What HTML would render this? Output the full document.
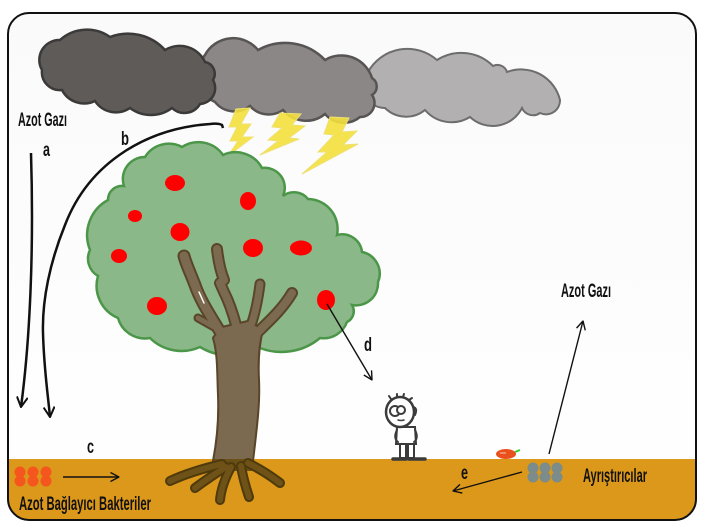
<!DOCTYPE html>
<html><head><meta charset="utf-8"><style>
html,body{margin:0;padding:0;background:#fff;}
svg{display:block;}
text{font-family:"Liberation Sans",Arial,sans-serif;font-weight:bold;fill:#111;}
</style></head><body>
<svg width="704" height="530" viewBox="0 0 704 530" xmlns="http://www.w3.org/2000/svg">
<defs>
<clipPath id="fr"><rect x="8" y="13" width="688" height="507" rx="21"/></clipPath>
<marker id="at" viewBox="0 0 12 12" refX="11" refY="6" markerWidth="12" markerHeight="12" orient="auto" markerUnits="userSpaceOnUse"><path d="M1,0.5 L11,6 L1,11.5" fill="none" stroke="#111" stroke-width="2"/></marker>
<marker id="as" viewBox="0 0 10 10" refX="9.5" refY="5" markerWidth="10" markerHeight="10" orient="auto" markerUnits="userSpaceOnUse"><path d="M1,0.5 L9.5,5 L1,9.5" fill="none" stroke="#111" stroke-width="1.4"/></marker>
<linearGradient id="bg" x1="0" y1="0" x2="0" y2="1"><stop offset="0" stop-color="#fafafa"/><stop offset="1" stop-color="#ffffff"/></linearGradient>
</defs>
<rect width="704" height="530" fill="#fff"/>
<g clip-path="url(#fr)">
 <rect x="0" y="0" width="704" height="530" fill="url(#bg)"/>
 <rect x="0" y="459" width="704" height="71" fill="#DC981A"/>
</g>
<rect x="8" y="13" width="688" height="507" rx="21" fill="none" stroke="#111" stroke-width="2"/>

<!-- clouds -->
<path d="M368,72 A45,45 0 0 1 437,60 A45,45 0 0 1 493,66 A10,10 0 0 1 507,72 A40,40 0 0 1 560,100 A14,14 0 0 1 540,113 A12,12 0 0 1 522,108 A33,33 0 0 1 470,117 A35,35 0 0 1 425,110 A30,30 0 0 1 385,108 A22,22 0 0 1 368,72 Z" fill="#b2b0b0" stroke="#6e6d6d" stroke-width="2"/>
<path d="M205,55 A32,32 0 0 1 258,50 A55,55 0 0 1 325,60 A32,32 0 0 1 372,78 A10,10 0 0 1 372,95 A14,14 0 0 1 360,117 A25,25 0 0 1 325,114 A30,30 0 0 1 283,110 A25,25 0 0 1 250,106 A25,25 0 0 1 215,102 A30,30 0 0 1 205,55 Z" fill="#8b8787" stroke="#575453" stroke-width="2.5"/>
<path d="M42,70 A20,20 0 0 1 60,40 A40,40 0 0 1 110,37 A50,50 0 0 1 165,50 A28,28 0 0 1 205,62 A12,12 0 0 1 213,80 A16,16 0 0 1 200,104 A18,18 0 0 1 172,108 A35,35 0 0 1 130,108 A25,25 0 0 1 95,101 A25,25 0 0 1 62,90 A18,18 0 0 1 42,70 Z" fill="#5e5b59" stroke="#3c3a39" stroke-width="2.5"/>

<!-- lightning -->
<g fill="#f3e03c" fill-opacity="0.9" stroke="#efe070" stroke-width="1">
<polygon points="236,109 250,108 241,124 251,124 242,137 253,137 228,156 238,141 230,141 237,127 229,127"/>
<polygon points="280,113 301,114 292,125 305,126 289,138 299,139 260,155 278,141 268,140 282,128 272,127"/>
<polygon points="330,117 349,118 342,132 357,131 343,145 358,144 302,174 327,152 318,152 334,135 324,134"/>
</g>

<!-- canopy -->
<path d="M90,250 A40,40 0 0 1 108,200 A14,14 0 0 1 124,186 A22,22 0 0 1 145,157 A28,28 0 0 1 182,147 A30,30 0 0 1 223,155 A30,30 0 0 1 262,168 A20,20 0 0 1 283,196 A18,18 0 0 1 308,199 A30,30 0 0 1 337,235 A20,20 0 0 1 362,252 A22,22 0 0 1 378,282 A22,22 0 0 1 352,305 A12,12 0 0 1 347,322 A25,25 0 0 1 320,338 A60,60 0 0 1 260,348 A60,60 0 0 1 200,347 A45,45 0 0 1 150,338 A28,28 0 0 1 118,318 A35,35 0 0 1 98,276 A20,20 0 0 1 90,250 Z" fill="#8bb889" stroke="#4b9648" stroke-width="2.5"/>

<!-- apples -->
<g fill="#ff0000">
<ellipse cx="175" cy="183" rx="10" ry="8"/>
<ellipse cx="248" cy="201" rx="8" ry="9"/>
<ellipse cx="135" cy="216" rx="7" ry="6"/>
<ellipse cx="180" cy="232" rx="9.5" ry="9"/>
<ellipse cx="119" cy="256" rx="8" ry="7"/>
<ellipse cx="253" cy="248" rx="10" ry="9"/>
<ellipse cx="301" cy="248" rx="11" ry="7.5"/>
<ellipse cx="157" cy="306" rx="10" ry="9"/>
<ellipse cx="326" cy="300" rx="9" ry="10"/>
</g>

<!-- trunk -->
<g stroke-linecap="round" stroke-linejoin="round" fill="none">
 <path d="M214,461 C218,440 220,420 219,395 C218,375 219,355 214,338 L222,328 L248,322 L262,330 C258,345 257,360 258,380 C259,400 257,420 252,461 Z" fill="#5a4528" stroke="#5a4528" stroke-width="4"/>
 <g stroke="#5a4528">
  <path d="M222,335 C210,315 200,300 195,285 C190,272 186,264 184,256" stroke-width="13"/>
  <path d="M214,327 L198,318" stroke-width="9"/>
  <path d="M236,325 C232,310 228,300 224,292 L220,283 L224,280 C220,270 218,258 217,249" stroke-width="12"/>
  <path d="M250,328 C255,315 258,300 260,284" stroke-width="11"/>
  <path d="M255,335 C268,322 282,310 292,293" stroke-width="12"/>
 </g>
 <path d="M214,461 C218,440 220,420 219,395 C218,375 219,355 214,338 L222,328 L248,322 L262,330 C258,345 257,360 258,380 C259,400 257,420 252,461 Z" fill="#7b6a4f" stroke="none"/>
 <g stroke="#7b6a4f">
  <path d="M222,335 C210,315 200,300 195,285 C190,272 186,264 184,256" stroke-width="9"/>
  <path d="M214,327 L198,318" stroke-width="5"/>
  <path d="M236,325 C232,310 228,300 224,292 L220,283 L224,280 C220,270 218,258 217,249" stroke-width="8"/>
  <path d="M250,328 C255,315 258,300 260,284" stroke-width="7"/>
  <path d="M255,335 C268,322 282,310 292,293" stroke-width="8"/>
 </g>
 <path d="M199,292 L204,303" stroke="#fff" stroke-width="1.5"/>
</g>

<!-- roots -->
<polygon points="214,459 253,459 257,471 211,471" fill="#6b5016"/>
<g fill="none" stroke-linecap="round" stroke-linejoin="round">
 <g stroke="#4f3a0c" stroke-width="10">
  <path d="M222,464 C205,468 185,474 170,481"/>
  <path d="M226,467 C213,475 203,482 195,488"/>
  <path d="M231,467 C224,480 221,490 220,500"/>
  <path d="M241,466 C243,478 246,488 249,497"/>
  <path d="M248,463 C262,470 271,476 280,483"/>
 </g>
 <g stroke="#6e5217" stroke-width="6">
  <path d="M222,464 C205,468 185,474 170,481"/>
  <path d="M226,467 C213,475 203,482 195,488"/>
  <path d="M231,467 C224,480 221,490 220,500"/>
  <path d="M241,466 C243,478 246,488 249,497"/>
  <path d="M248,463 C262,470 271,476 280,483"/>
 </g>
</g>

<!-- person -->
<g stroke="#3b3b3b" stroke-width="2" fill="#fff" stroke-linecap="round">
 <path d="M397,427 L396,444 L416,444 L415,427 Z"/>
 <path d="M397,430 q-4,8 1,12 M415,430 q4,8 -1,12" fill="none"/>
 <rect x="400" y="444" width="6" height="14"/>
 <rect x="408" y="444" width="6" height="14"/>
 <path d="M393,459 L406,459 M409,459 L425,459" stroke-width="3.5"/>
 <ellipse cx="400" cy="412" rx="14" ry="15" stroke-width="2.5"/>
 <path d="M391,399 l-2,-3 M397,397 l0,-3 M403,397 l1,-3 M409,400 l3,-2" fill="none"/>
 <path d="M413,407 q5,1 2,8" fill="none"/>
 <circle cx="395" cy="411" r="5"/>
 <circle cx="401" cy="410" r="4"/>
 <path d="M398,420 q3,1 6,0" fill="none" stroke-width="1.5"/>
</g>

<!-- fallen apple -->
<ellipse cx="506" cy="454" rx="10" ry="5" fill="#ea501c"/>
<path d="M500,453 L506,453" stroke="#f7a080" stroke-width="1.5"/>
<path d="M515,452 L520,450" stroke="#33cc33" stroke-width="2"/>

<!-- bacteria -->
<g fill="#f4561e">
<circle cx="20" cy="472" r="5.5"/><circle cx="33" cy="472" r="5.5"/><circle cx="46" cy="472" r="5.5"/>
<circle cx="20" cy="481" r="5.5"/><circle cx="33" cy="481" r="5.5"/><circle cx="46" cy="481" r="5.5"/>
</g>
<g fill="#7b8c8a">
<circle cx="533" cy="468" r="5.5"/><circle cx="545" cy="468" r="5.5"/><circle cx="557" cy="468" r="5.5"/>
<circle cx="533" cy="477" r="5.5"/><circle cx="545" cy="477" r="5.5"/><circle cx="557" cy="477" r="5.5"/>
</g>

<!-- arrows -->
<g fill="none" stroke="#111">
 <path d="M31,153 C34,250 30,340 21,407" stroke-width="2.5" marker-end="url(#at)"/>
 <path d="M223,128 L222,125 Q218,123 210,124 C150,128 90,160 65,225 C50,262 42,300 43,333 C44,370 48,395 50,417" stroke-width="2.5" marker-end="url(#at)"/>
 <path d="M63,477 L119,477" stroke-width="1.4" marker-end="url(#as)"/>
 <path d="M327,304 L372,380" stroke-width="1.4" marker-end="url(#as)"/>
 <path d="M522,472 L453,491" stroke-width="1.4" marker-end="url(#as)"/>
 <path d="M549,454 L583,321" stroke-width="1.4" marker-end="url(#as)"/>
</g>

<!-- labels -->
<text x="18" y="126" font-size="19" textLength="49" lengthAdjust="spacingAndGlyphs">Azot Gazı</text>
<text x="43" y="156" font-size="19" textLength="7" lengthAdjust="spacingAndGlyphs">a</text>
<text x="121" y="145" font-size="19" textLength="8" lengthAdjust="spacingAndGlyphs">b</text>
<text x="87" y="453" font-size="19" textLength="7" lengthAdjust="spacingAndGlyphs">c</text>
<text x="364" y="351" font-size="19" textLength="8" lengthAdjust="spacingAndGlyphs">d</text>
<text x="461" y="479" font-size="19" textLength="7" lengthAdjust="spacingAndGlyphs">e</text>
<text x="561" y="297" font-size="19" textLength="50" lengthAdjust="spacingAndGlyphs">Azot Gazı</text>
<text x="583" y="482" font-size="19" textLength="64" lengthAdjust="spacingAndGlyphs">Ayrıştırıcılar</text>
<text x="19" y="510" font-size="19" textLength="132" lengthAdjust="spacingAndGlyphs">Azot Bağlayıcı Bakteriler</text>
</svg>
</body></html>
